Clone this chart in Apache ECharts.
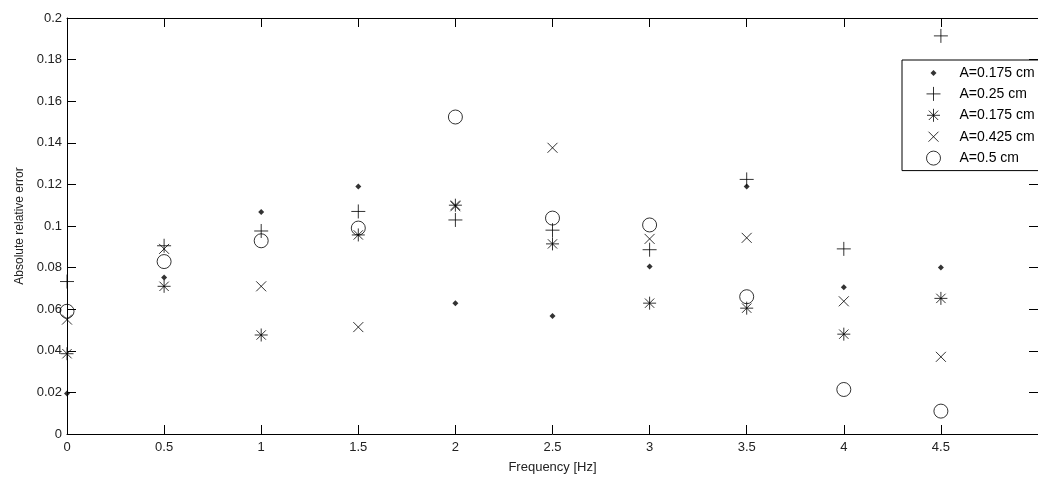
<!DOCTYPE html>
<html>
<head>
<meta charset="utf-8">
<script src="https://cdn.jsdelivr.net/npm/echarts@6/dist/echarts.min.js"></script>
<style>
  html, body { margin: 0; padding: 0; background: #fff; }
  #chart { width: 1038px; height: 479px; }
</style>
</head>
<body>
<div id="chart"></div>
<script>
// Excitation frequencies (Hz)
const freq = [0, 0.5, 1, 1.5, 2, 2.5, 3, 3.5, 4, 4.5];

// Absolute relative error for each amplitude
const errDot175  = [0.0195, 0.0752, 0.1067, 0.119, 0.0629, 0.0567, 0.0805, 0.119, 0.0705, 0.080];
const errPlus25  = [0.0733, 0.0905, 0.0976, 0.107, 0.1029, 0.098, 0.0886, 0.1224, 0.089, 0.1914];
const errStar175 = [0.0386, 0.071, 0.0476, 0.0957, 0.110, 0.0914, 0.0629, 0.0605, 0.048, 0.0652];
const errX425    = [0.055, 0.089, 0.071, 0.0514, 0.1095, 0.1376, 0.0938, 0.0943, 0.0638, 0.0371];
const errO5      = [0.059, 0.0829, 0.0929, 0.099, 0.1524, 0.1038, 0.1005, 0.066, 0.0214, 0.0110];

const seriesNames = ['A=0.175 cm', 'A=0.25 cm', 'A=0.175 cm ', 'A=0.425 cm', 'A=0.5 cm'];

// Axis ranges and tick spacing
const xMin = 0, xMax = 5, xStep = 0.5;
const yMin = 0, yMax = 0.2, yStep = 0.02;

const FONT = 'Liberation Sans, Arial, sans-serif';

// Marker shapes (MATLAB-like '.', '+', '*', 'x', 'o')
const plusPath  = 'path://M0,-1L0,1M-1,0L1,0';
const crossPath = 'path://M-1,-1L1,1M-1,1L1,-1';
const starPath  = 'path://M0,-1L0,1M-1,0L1,0M-0.72,-0.72L0.72,0.72M-0.72,0.72L0.72,-0.72';

// Legend icons share one 14x14 box, so smaller markers carry an empty margin
const dotIcon   = 'path://M-7,-7M7,7M0,-3L3,0L0,3L-3,0Z';
const plusIcon  = 'path://M-7,-7M7,7M0,-7L0,7M-7,0L7,0';
const starIcon  = 'path://M-7,-7M7,7M0,-6.5L0,6.5M-6.5,0L6.5,0M-4.7,-4.7L4.7,4.7M-4.7,4.7L4.7,-4.7';
const crossIcon = 'path://M-7,-7M7,7M-5,-5L5,5M-5,5L5,-5';

const pts = arr => freq.map((f, i) => [f, arr[i]]);

const lineMark = { color: '#000', borderColor: '#000', borderWidth: 1 };

const chart = echarts.init(document.getElementById('chart'), null, { renderer: 'canvas' });

const tickCommon = { show: true, inside: true, length: 9, lineStyle: { color: '#000', width: 1 } };
const lineCommon = { show: true, onZero: false, lineStyle: { color: '#000', width: 1 } };

chart.setOption({
  animation: false,
  backgroundColor: '#fff',
  grid: { left: 67, top: 18, width: 979, height: 420, containLabel: false },
  xAxis: [
    {
      type: 'value', min: xMin, max: xMax, interval: xStep, position: 'bottom',
      axisLine: lineCommon, axisTick: tickCommon, splitLine: { show: false },
      axisLabel: { color: '#222', fontFamily: FONT, fontSize: 13, margin: 7, showMaxLabel: false },
      name: 'Frequency [Hz]', nameLocation: 'middle', nameGap: 27,
      nameTextStyle: { color: '#222', fontFamily: FONT, fontSize: 13 }
    },
    {
      type: 'value', min: xMin, max: xMax, interval: xStep, position: 'top',
      axisLine: lineCommon, axisTick: tickCommon, splitLine: { show: false },
      axisLabel: { show: false }
    }
  ],
  yAxis: [
    {
      type: 'value', min: yMin, max: yMax, interval: yStep, position: 'left',
      axisLine: lineCommon, axisTick: tickCommon, splitLine: { show: false },
      axisLabel: { color: '#222', fontFamily: FONT, fontSize: 13, margin: 5 },
      name: 'Absolute relative error', nameLocation: 'middle', nameGap: 33,
      nameTextStyle: { color: '#222', fontFamily: FONT, fontSize: 12 }
    },
    {
      type: 'value', min: yMin, max: yMax, interval: yStep, position: 'right',
      axisLine: lineCommon, axisTick: tickCommon, splitLine: { show: false },
      axisLabel: { show: false }
    }
  ],
  legend: {
    orient: 'vertical', left: 902, top: 60,
    padding: [6, 60, 5, 24], itemGap: 6.4, itemWidth: 14, itemHeight: 14,
    backgroundColor: '#fff', borderColor: '#000', borderWidth: 1, borderRadius: 0,
    itemStyle: { borderWidth: 1 },
    textStyle: { color: '#000', fontFamily: FONT, fontSize: 14, padding: [0, 0, 0, 14] },
    data: [
      { name: seriesNames[0], icon: dotIcon },
      { name: seriesNames[1], icon: plusIcon },
      { name: seriesNames[2], icon: starIcon },
      { name: seriesNames[3], icon: crossIcon },
      { name: seriesNames[4], icon: 'circle' }
    ]
  },
  series: [
    {
      name: seriesNames[0], type: 'scatter', data: pts(errDot175),
      symbol: 'diamond', symbolSize: 6,
      itemStyle: { color: '#000' }
    },
    {
      name: seriesNames[1], type: 'scatter', data: pts(errPlus25),
      symbol: plusPath, symbolSize: 14, itemStyle: lineMark
    },
    {
      name: seriesNames[2], type: 'scatter', data: pts(errStar175),
      symbol: starPath, symbolSize: 13, itemStyle: lineMark
    },
    {
      name: seriesNames[3], type: 'scatter', data: pts(errX425),
      symbol: crossPath, symbolSize: 10, itemStyle: lineMark
    },
    {
      name: seriesNames[4], type: 'scatter', data: pts(errO5),
      symbol: 'circle', symbolSize: 14,
      itemStyle: { color: 'rgba(0,0,0,0)', borderColor: '#000', borderWidth: 1 }
    }
  ]
});
</script>
</body>
</html>
